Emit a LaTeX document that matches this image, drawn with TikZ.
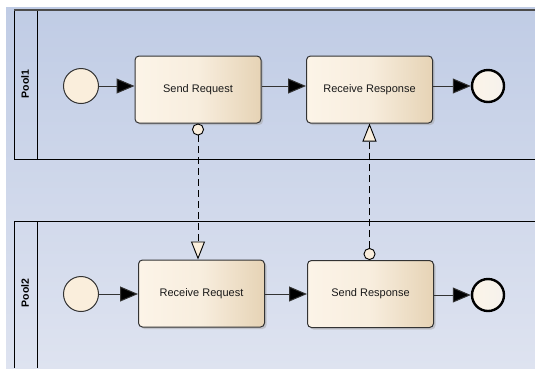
\documentclass[tikz,border=0pt]{standalone}
\usepackage{fontspec}
\setmainfont{Liberation Sans}
\usetikzlibrary{arrows.meta,shadows,positioning}

\definecolor{taskL}{HTML}{FCF4E8}
\definecolor{taskR}{HTML}{E6D3B5}
\definecolor{evfill}{HTML}{FAEEDC}
\definecolor{bgtop}{HTML}{C0CCE5}
\definecolor{bgbot}{HTML}{DEE3F0}
\definecolor{ink}{HTML}{333333}

\tikzset{
  task/.style={draw=ink, line width=1pt, rounded corners=4pt,
    minimum width=126pt, minimum height=67pt, inner sep=0pt,
    left color=taskL, right color=taskR, middle color=taskL!80!taskR,
    drop shadow={shadow xshift=2pt, shadow yshift=-2pt, fill=black!35},
    font=\fontsize{11}{13}\selectfont, text=black!90},
  startev/.style={circle, draw=ink, line width=1pt, fill=evfill,
    minimum size=35pt, inner sep=0pt},
  endev/.style={circle, draw=black, line width=2.4pt,
    left color=taskL, right color=taskR!90!black!20, minimum size=32pt, inner sep=0pt},
  seqflow/.style={draw=ink, line width=1pt, -{Triangle[length=18pt,width=15pt,fill=black]}},
  msgflow/.style={draw=black, line width=0.9pt, dash pattern=on 7pt off 4pt,
    {Circle[length=12pt,fill=evfill,line width=0.9pt,sep=0pt]}-{Triangle[length=18pt,width=14pt,fill=evfill,line width=0.9pt]}},
  poollabel/.style={rotate=90, font=\fontsize{10.5}{12}\selectfont\bfseries},
}

\begin{document}
\begin{tikzpicture}[x=1pt,y=-1pt]
  \useasboundingbox (0,0) rectangle (535,368);
  % canvas
  \shade[top color=bgtop, bottom color=bgbot] (6,7) rectangle (535,368);

  % pools
  \draw[line width=1pt] (14,10) -- (14,159) -- (535,159);
  \draw[line width=1pt] (37,10) -- (37,159);
  \draw[line width=2.4pt, black!70] (14,10) -- (535,10);
  \node[poollabel] (pool1) at (25,84) {Pool1};

  \draw[line width=1pt] (14,368) -- (14,221) -- (535,221);
  \draw[line width=1pt] (37,221) -- (37,368);
  \node[poollabel] (pool2) at (25,293) {Pool2};

  % pool 1
  \node[startev] (start1) at (81,86) {};
  \node[task] (sendreq) at (198,89.5) {Send Request};
  \node[task] (recvresp) at (369.5,89.5) {Receive Response};
  \node[endev] (end1) at (488,86) {};
  \draw[seqflow] (start1) -- (sendreq.west |- start1);
  \draw[seqflow] (sendreq.east |- start1) -- (recvresp.west |- start1);
  \draw[seqflow] (recvresp.east |- end1) -- (end1);

  % pool 2
  \node[startev] (start2) at (81,294) {};
  \node[task] (recvreq) at (201.5,293.5) {Receive Request};
  \node[task] (sendresp) at (370.5,294) {Send Response};
  \node[endev] (end2) at (488,295) {};
  \draw[seqflow] (start2) -- (recvreq.west |- start2);
  \draw[seqflow] (recvreq.east |- start2) -- (sendresp.west |- start2);
  \draw[seqflow] (sendresp.east |- end2) -- (end2);

  % messages between the pools
  \draw[msgflow] (sendreq.south) -- (recvreq.north -| sendreq.south);
  \draw[msgflow] (sendresp.north -| recvresp.south) -- (recvresp.south);
\end{tikzpicture}
\end{document}
